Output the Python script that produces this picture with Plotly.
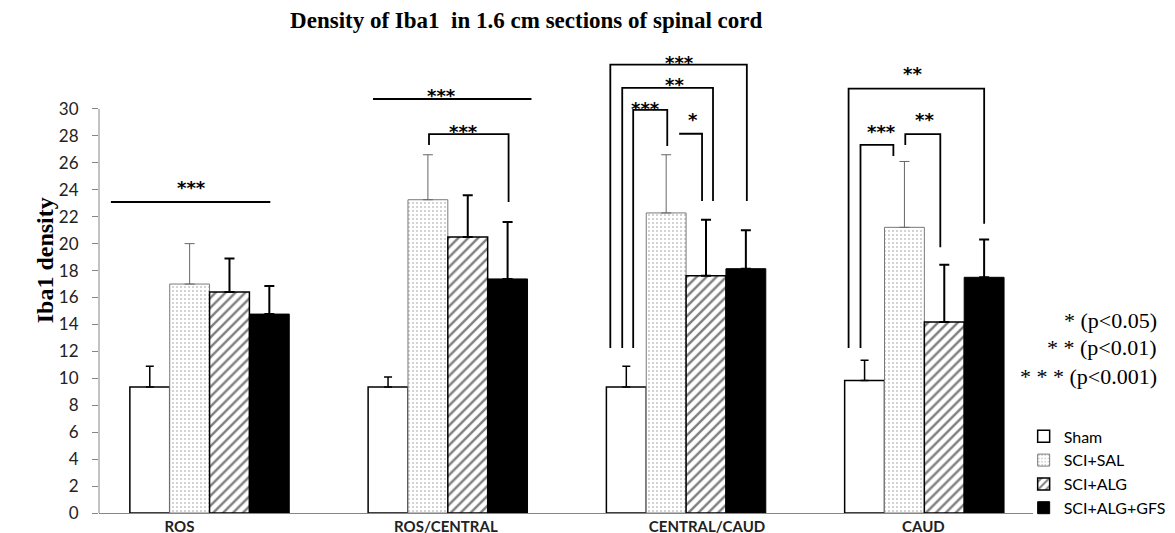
import plotly.graph_objects as go

# ---------------- data ----------------
categories = ["ROS", "ROS/CENTRAL", "CENTRAL/CAUD", "CAUD"]
series_names = ["Sham", "SCI+SAL", "SCI+ALG", "SCI+ALG+GFS"]
sham = [9.36, 9.36, 9.36, 9.83]
sham_err = [1.54, 0.74, 1.54, 1.51]
sal = [17.0, 23.26, 22.28, 21.21]
sal_err = [3.0, 3.34, 4.32, 4.89]
alg = [16.4, 20.5, 17.62, 14.18]
alg_err = [2.5, 3.1, 4.16, 4.26]
gfs = [14.77, 17.38, 18.14, 17.5]
gfs_err = [2.08, 4.22, 2.85, 2.8]
y_ticks = list(range(0, 31, 2))
p_legend = ["* (p<0.05)", "* * (p<0.01)", "* * * (p<0.001)"]

# significance brackets: (x_left, y_left_bottom, x_right, y_right_bottom, y_top)
brackets = [
    (-0.414, None, 0.255, None, 23.09),
    (0.686, None, 1.351, None, 30.74),
    (0.921, 27.33, 1.255, 23.09, 28.13),
    (1.682, 12.25, 2.255, 23.17, 33.29),
    (1.732, 12.25, 2.113, 23.17, 31.56),
    (1.778, 12.25, 1.921, 27.25, 29.93),
    (1.971, None, 2.067, 23.17, 28.16),
    (2.682, 12.25, 3.251, 21.48, 31.51),
    (2.732, 12.25, 2.870, 26.51, 27.33),
    (2.920, 27.33, 3.067, 19.73, 28.13),
]
stars = [
    (-0.075, 24.44, "***"),
    (0.975, 31.26, "***"),
    (1.067, 28.66, "***"),
    (1.971, 33.73, "***"),
    (1.950, 32.10, "**"),
    (1.828, 30.32, "***"),
    (2.029, 29.50, "*"),
    (2.950, 32.92, "**"),
    (2.820, 28.66, "***"),
    (3.000, 29.55, "**"),
]
label_pos = [-0.126, 0.992, 2.088, 2.996]

xs = list(range(len(categories)))

fig = go.Figure()

fig.add_trace(go.Bar(
    x=xs, y=sham, name=series_names[0],
    marker=dict(color="white", line=dict(color="black", width=1.5)),
    error_y=dict(type="data", symmetric=False, array=sham_err, arrayminus=[0]*4,
                 color="black", thickness=1.5, width=4),
))
fig.add_trace(go.Bar(
    x=xs, y=sal, name=series_names[1],
    marker=dict(color="white", line=dict(color="#7a7a7a", width=1),
                pattern=dict(shape=".", fgcolor="#8a8a8a", bgcolor="white", size=4, solidity=0.2)),
    error_y=dict(type="data", symmetric=False, array=sal_err, arrayminus=[0]*4,
                 color="#666666", thickness=1, width=5),
))
fig.add_trace(go.Bar(
    x=xs, y=alg, name=series_names[2],
    marker=dict(color="white", line=dict(color="black", width=1.5),
                pattern=dict(shape="/", fgcolor="black", bgcolor="white", size=7, solidity=0.35)),
    error_y=dict(type="data", symmetric=False, array=alg_err, arrayminus=[0]*4,
                 color="black", thickness=2, width=5),
))
fig.add_trace(go.Bar(
    x=xs, y=gfs, name=series_names[3],
    marker=dict(color="black", line=dict(color="black", width=1)),
    error_y=dict(type="data", symmetric=False, array=gfs_err, arrayminus=[0]*4,
                 color="black", thickness=2, width=5),
))

shapes = []
for xl, ylb, xr, yrb, yt in brackets:
    path = ""
    if ylb is not None:
        path += f"M {xl},{ylb} L {xl},{yt} "
    else:
        path += f"M {xl},{yt} "
    path += f"L {xr},{yt}"
    if yrb is not None:
        path += f" L {xr},{yrb}"
    shapes.append(dict(type="path", xref="x", yref="y", path=path,
                       line=dict(color="black", width=1.8)))
# y axis line only up to 30
shapes.append(dict(type="line", xref="paper", yref="y", x0=0, x1=0, y0=0, y1=30,
                   line=dict(color="#868686", width=1)))

annotations = []
for x, y, t in stars:
    annotations.append(dict(x=x, y=y, xref="x", yref="y", text=f"<b>{t}</b>", showarrow=False,
                            yshift=-4, font=dict(family="DejaVu Sans", size=18, color="black")))

p_y = [0.402, 0.344, 0.285]
for t, y in zip(p_legend, p_y):
    annotations.append(dict(x=1.1345, y=y, xref="paper", yref="paper", text=t,
                            showarrow=False, xanchor="right", yanchor="middle",
                            font=dict(family="Liberation Serif", size=22, color="black")))

annotations.append(dict(x=-0.0736, y=0.527, xref="paper", yref="paper", text="<b>Iba1 density</b>",
                        textangle=-90, showarrow=False,
                        font=dict(family="Liberation Serif", size=24, color="black")))

fig.update_layout(
    width=1175, height=533,
    margin=dict(l=91, r=147, t=25, b=28),
    paper_bgcolor="white", plot_bgcolor="white",
    barmode="group", bargap=0.331, bargroupgap=0,
    title=dict(text="<b>Density of Iba1\u00a0 in 1.6 cm sections of spinal cord</b>",
               x=0.441, xanchor="center", y=0.978, yanchor="middle",
               font=dict(family="Liberation Serif", size=23, color="black")),
    xaxis=dict(range=[-0.464, 3.456], tickvals=label_pos, ticktext=[f"<b>{c}</b>" for c in categories],
               ticks="", showline=True, linecolor="#868686", linewidth=1, showgrid=False,
               zeroline=False, automargin=False,
               tickfont=dict(family="Lato", size=15, color="#222")),
    yaxis=dict(range=[0, 35.64], tickvals=y_ticks, ticks="outside", ticklen=6,
               tickcolor="#868686", showline=False, showgrid=False, zeroline=False,
               automargin=False, ticklabelstandoff=10,
               tickfont=dict(family="Lato", size=17, color="#222")),
    legend=dict(x=0.99, xanchor="left", y=0.195, yanchor="top",
                font=dict(family="Lato", size=16, color="black"),
                bgcolor="rgba(0,0,0,0)", tracegroupgap=0),
    shapes=shapes, annotations=annotations,
)

fig.write_html("out.html")
